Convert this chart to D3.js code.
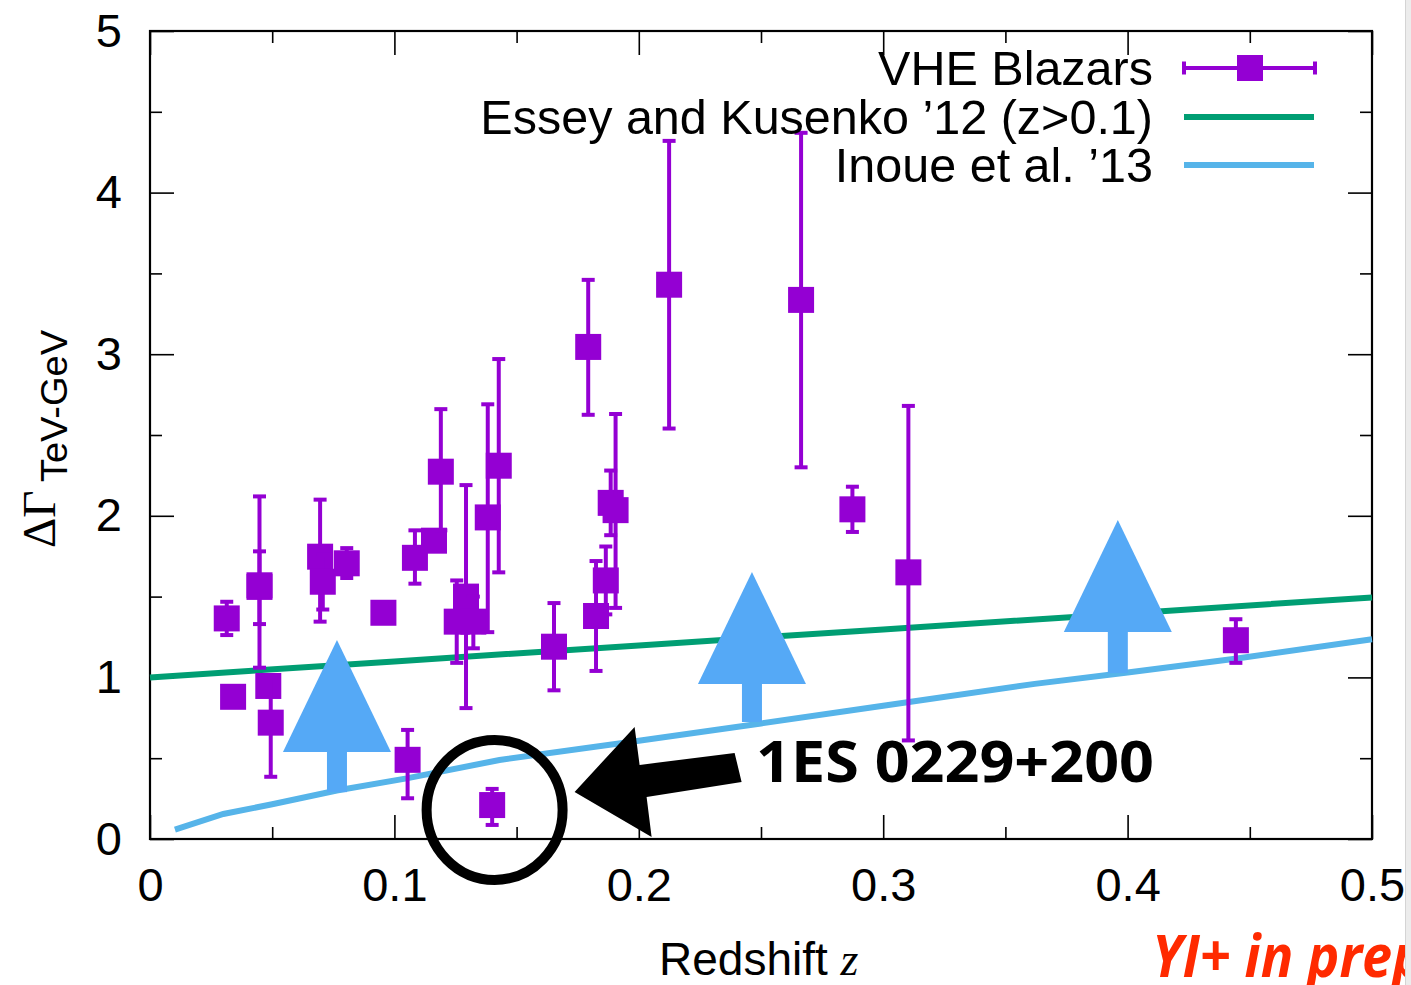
<!DOCTYPE html>
<html>
<head>
<meta charset="utf-8">
<script src="https://cdn.jsdelivr.net/npm/d3@7"></script>
<style>
  html, body { margin: 0; padding: 0; background: #fff; }
  svg { display: block; }
</style>
</head>
<body>
<svg id="chart" width="1411" height="985"></svg>
<script>
// ---------------- DATA ----------------
// VHE blazars: redshift, ΔΓ, lower and upper error bar ends
const blazarZ  = [0.0314, 0.0340, 0.0448, 0.0448, 0.0484, 0.0494, 0.0696, 0.0707, 0.0805, 0.0955,
                  0.1054, 0.1084, 0.1162, 0.1190, 0.1255, 0.1293, 0.1323, 0.1382, 0.1427, 0.1400,
                  0.1653, 0.1793, 0.1825, 0.1865, 0.1885, 0.1905, 0.2124, 0.2664, 0.2874, 0.3103,
                  0.4443];
const blazarDG = [1.365, 0.880, 1.560, 1.570, 0.947, 0.720, 1.747, 1.592, 1.706, 1.400,
                  0.490, 1.740, 1.846, 2.273, 1.345, 1.500, 1.345, 1.990, 2.310, 0.210,
                  1.190, 3.045, 1.380, 1.600, 2.080, 2.035, 3.430, 3.336, 2.040, 1.650,
                  1.230];
const blazarLo = [1.262, 0.850, 1.330, 1.060, 0.920, 0.385, 1.345, 1.420, 1.615, 1.370,
                  0.252, 1.580, 1.810, 1.910, 1.090, 0.810, 1.180, 1.280, 1.650, 0.087,
                  0.920, 2.625, 1.040, 1.390, 1.880, 1.430, 2.540, 2.300, 1.900, 0.610,
                  1.090];
const blazarHi = [1.468, 0.910, 1.780, 2.120, 0.980, 1.000, 2.100, 1.760, 1.800, 1.430,
                  0.675, 1.910, 1.880, 2.660, 1.600, 2.190, 1.500, 2.690, 2.970, 0.310,
                  1.460, 3.460, 1.720, 1.810, 2.280, 2.630, 4.320, 4.370, 2.180, 2.680,
                  1.360];

// Essey and Kusenko '12 (z>0.1)
const esseyZ  = [0.0, 0.1, 0.2, 0.3, 0.4, 0.5];
const esseyDG = [1.000, 1.099, 1.198, 1.297, 1.396, 1.495];

// Inoue et al. '13
const inoueZ  = [0.0102, 0.030, 0.050, 0.0764, 0.105, 0.143, 0.200, 0.250, 0.300, 0.362, 0.400, 0.444, 0.500];
const inoueDG = [0.058, 0.155, 0.215, 0.300, 0.375, 0.489, 0.608, 0.715, 0.825, 0.960, 1.030, 1.115, 1.236];

// Blue lower-limit arrows: redshift, start (on Inoue curve), tip value
const arrowZ    = [0.0765, 0.2463, 0.3960];
const arrowFrom = [0.290, 0.724, 1.027];
const arrowTo   = [1.231, 1.652, 1.974];

// Highlighted source
const highlightName = "1ES 0229+200";
const highlightZ = 0.1410;
const highlightDG = 0.180;

// Axes
const xTicks = [0, 0.1, 0.2, 0.3, 0.4, 0.5];
const xTickLabels = ["0", "0.1", "0.2", "0.3", "0.4", "0.5"];
const xMinorTicks = [0.05, 0.15, 0.25, 0.35, 0.45];
const yTicks = [0, 1, 2, 3, 4, 5];
const yTickLabels = ["0", "1", "2", "3", "4", "5"];
const yMinorTicks = [0.5, 1.5, 2.5, 3.5, 4.5];

const legendLabels = ["VHE Blazars", "Essey and Kusenko \u201912 (z>0.1)", "Inoue et al. \u201913"];

// ---------------- STYLE ----------------
const PURPLE = "#9400D3", GREEN = "#009E73", BLUE = "#56B4E9", ARROWBLUE = "#55A9F6";
const SANS = "'Liberation Sans', Arial, Helvetica, sans-serif";
const SERIF = "'Liberation Serif', 'Times New Roman', serif";

const svg = d3.select("#chart");
const L = 150, R = 1372, T = 31, B = 839;
const x = d3.scaleLinear().domain([0, 0.5]).range([L, R]);
const y = d3.scaleLinear().domain([0, 5]).range([B, T]);

// ---------------- AXES ----------------
function styleAxis(g) {
  g.select(".domain").remove();
  g.selectAll(".tick line").attr("stroke", "#000").attr("stroke-width", 1.6);
  g.selectAll("text").attr("font-family", SANS).attr("font-size", 47).attr("fill", "#000");
}
const fmtX = d => xTickLabels[xTicks.indexOf(d)];
const fmtY = d => yTickLabels[yTicks.indexOf(d)];

svg.append("g").attr("transform", `translate(0,${B})`)
  .call(d3.axisBottom(x).tickValues(xTicks).tickFormat(fmtX).tickSizeInner(-24).tickSizeOuter(0).tickPadding(29))
  .call(styleAxis);
svg.append("g").attr("transform", `translate(0,${B})`)
  .call(d3.axisBottom(x).tickValues(xMinorTicks).tickFormat("").tickSizeInner(-12).tickSizeOuter(0))
  .call(styleAxis);
svg.append("g").attr("transform", `translate(0,${T})`)
  .call(d3.axisTop(x).tickValues(xTicks).tickFormat("").tickSizeInner(-24).tickSizeOuter(0))
  .call(styleAxis);
svg.append("g").attr("transform", `translate(0,${T})`)
  .call(d3.axisTop(x).tickValues(xMinorTicks).tickFormat("").tickSizeInner(-12).tickSizeOuter(0))
  .call(styleAxis);
svg.append("g").attr("transform", `translate(${L},0)`)
  .call(d3.axisLeft(y).tickValues(yTicks).tickFormat(fmtY).tickSizeInner(-24).tickSizeOuter(0).tickPadding(28))
  .call(styleAxis);
svg.append("g").attr("transform", `translate(${L},0)`)
  .call(d3.axisLeft(y).tickValues(yMinorTicks).tickFormat("").tickSizeInner(-12).tickSizeOuter(0))
  .call(styleAxis);
svg.append("g").attr("transform", `translate(${R},0)`)
  .call(d3.axisRight(y).tickValues(yTicks).tickFormat("").tickSizeInner(-24).tickSizeOuter(0))
  .call(styleAxis);
svg.append("g").attr("transform", `translate(${R},0)`)
  .call(d3.axisRight(y).tickValues(yMinorTicks).tickFormat("").tickSizeInner(-12).tickSizeOuter(0))
  .call(styleAxis);

// frame
svg.append("rect").attr("x", L).attr("y", T).attr("width", R - L).attr("height", B - T)
  .attr("fill", "none").attr("stroke", "#000").attr("stroke-width", 2.2);

// ---------------- MODEL LINES ----------------
const line = d3.line().x(d => x(d[0])).y(d => y(d[1]));
svg.append("path").datum(esseyZ.map((z, i) => [z, esseyDG[i]]))
  .attr("d", line).attr("fill", "none").attr("stroke", GREEN).attr("stroke-width", 6);
svg.append("path").datum(inoueZ.map((z, i) => [z, inoueDG[i]]))
  .attr("d", line).attr("fill", "none").attr("stroke", BLUE).attr("stroke-width", 6);

// ---------------- DATA POINTS ----------------
const pts = blazarZ.map((z, i) => ({ z, v: blazarDG[i], lo: blazarLo[i], hi: blazarHi[i] }));
const gp = svg.append("g");
const capW = 13, sq = 26;
pts.forEach(p => {
  const cx = x(p.z);
  gp.append("line").attr("x1", cx).attr("x2", cx).attr("y1", y(p.lo)).attr("y2", y(p.hi))
    .attr("stroke", PURPLE).attr("stroke-width", 4);
  [p.lo, p.hi].forEach(v => {
    gp.append("line").attr("x1", cx - capW / 2).attr("x2", cx + capW / 2).attr("y1", y(v)).attr("y2", y(v))
      .attr("stroke", PURPLE).attr("stroke-width", 4);
  });
  gp.append("rect").attr("x", cx - sq / 2).attr("y", y(p.v) - sq / 2).attr("width", sq).attr("height", sq)
    .attr("fill", PURPLE);
});

// ---------------- BLUE ARROWS ----------------
const headH = 112, headHW = 54, stemW = 20;
arrowZ.forEach((z, i) => {
  const cx = x(z), yb = y(arrowFrom[i]), yt = y(arrowTo[i]);
  const yh = yt + headH;
  svg.append("rect").attr("x", cx - stemW / 2).attr("y", yh - 1).attr("width", stemW).attr("height", yb - yh + 1)
    .attr("fill", ARROWBLUE);
  svg.append("path").attr("d", `M${cx},${yt} L${cx + headHW},${yh} L${cx - headHW},${yh} Z`).attr("fill", ARROWBLUE);
});

// ---------------- HIGHLIGHT ----------------
const hx = x(highlightZ), hy = y(highlightDG);
svg.append("ellipse").attr("cx", hx).attr("cy", hy).attr("rx", 68).attr("ry", 70)
  .attr("fill", "none").attr("stroke", "#000").attr("stroke-width", 10);
// black arrow pointing at the circle
const tipX = hx + 80, tipY = hy - 18;
const arrowPts = [
  [tipX, tipY], [tipX + 60, tipY - 65], [tipX + 65, tipY - 27],
  [tipX + 160, tipY - 39], [tipX + 167, tipY - 10], [tipX + 72, tipY + 5], [tipX + 77, tipY + 45]
];
svg.append("path").attr("d", "M" + arrowPts.map(p => p.join(",")).join("L") + "Z").attr("fill", "#000");
svg.append("text").attr("x", 756).attr("y", 782)
  .attr("font-family", "'Open Sans', Lato, sans-serif").attr("font-weight", 700).attr("font-size", 57)
  .attr("textLength", 398).attr("lengthAdjust", "spacingAndGlyphs")
  .attr("fill", "#000").text(highlightName);

// ---------------- LEGEND ----------------
const legY = [68, 117, 165];
const lg = svg.append("g");
legendLabels.forEach((t, i) => {
  lg.append("text").attr("x", 1153).attr("y", legY[i] + 17).attr("text-anchor", "end")
    .attr("font-family", SANS).attr("font-size", 48.5).attr("fill", "#000").text(t);
});
lg.append("line").attr("x1", 1184).attr("x2", 1315).attr("y1", legY[0]).attr("y2", legY[0])
  .attr("stroke", PURPLE).attr("stroke-width", 4);
[1184, 1315].forEach(xx => lg.append("line").attr("x1", xx).attr("x2", xx)
  .attr("y1", legY[0] - 6.5).attr("y2", legY[0] + 6.5).attr("stroke", PURPLE).attr("stroke-width", 4));
lg.append("rect").attr("x", 1237).attr("y", legY[0] - 13).attr("width", 26).attr("height", 26).attr("fill", PURPLE);
lg.append("line").attr("x1", 1184).attr("x2", 1314).attr("y1", legY[1]).attr("y2", legY[1])
  .attr("stroke", GREEN).attr("stroke-width", 6);
lg.append("line").attr("x1", 1184).attr("x2", 1314).attr("y1", legY[2]).attr("y2", legY[2])
  .attr("stroke", BLUE).attr("stroke-width", 6);

// ---------------- AXIS TITLES ----------------
const xt = svg.append("text").attr("x", 659).attr("y", 975).attr("font-family", SANS).attr("font-size", 46).attr("fill", "#000");
xt.append("tspan").text("Redshift ");
xt.append("tspan").attr("font-family", SERIF).attr("font-style", "italic").attr("font-size", 46).text("z");

svg.append("text").attr("transform", "translate(55,548) rotate(-90)")
  .attr("font-family", SERIF).attr("font-size", 47).attr("fill", "#000").text("\u0394\u0393");
svg.append("text").attr("transform", "translate(67,482) rotate(-90)")
  .attr("font-family", SANS).attr("font-size", 37).attr("fill", "#000")
  .attr("textLength", 152).attr("lengthAdjust", "spacingAndGlyphs").text("TeV-GeV");

// red note (clipped by the page edge, as in the original slide)
svg.append("text").attr("transform", "translate(1152,977) scale(0.9,1)")
  .attr("font-family", "'Open Sans', sans-serif").attr("font-weight", 700).attr("font-style", "italic")
  .attr("font-size", 60).attr("fill", "#FF2A00").text("YI+ in prep.");

// right-edge slide strip
svg.append("rect").attr("x", 1405).attr("y", 0).attr("width", 6).attr("height", 985).attr("fill", "#ececec");
svg.append("line").attr("x1", 1405.5).attr("x2", 1405.5).attr("y1", 0).attr("y2", 985).attr("stroke", "#d4d4d4").attr("stroke-width", 1);
</script>
</body>
</html>
